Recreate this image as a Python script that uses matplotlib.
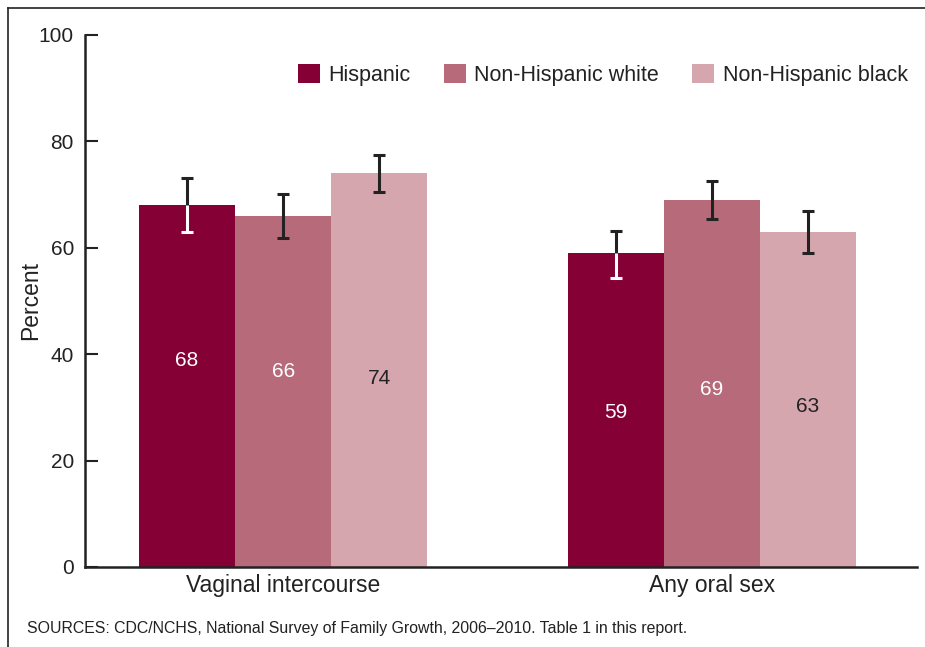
import matplotlib.pyplot as plt
import numpy as np
from matplotlib.lines import Line2D

plt.rcParams['font.family'] = ['Liberation Sans', 'DejaVu Sans']

categories = ["Vaginal intercourse", "Any oral sex"]
groups = ["Hispanic", "Non-Hispanic white", "Non-Hispanic black"]
values = {
    "Hispanic": [68, 59],
    "Non-Hispanic white": [66, 69],
    "Non-Hispanic black": [74, 63],
}
ci_low = {
    "Hispanic": [63.0, 54.3],
    "Non-Hispanic white": [61.8, 65.4],
    "Non-Hispanic black": [70.5, 59.0],
}
ci_high = {
    "Hispanic": [73.1, 63.2],
    "Non-Hispanic white": [70.1, 72.6],
    "Non-Hispanic black": [77.4, 66.9],
}
source = "SOURCES: CDC/NCHS, National Survey of Family Growth, 2006\u20132010. Table 1 in this report."

colors = ["#850034", "#b76a7a", "#d6a6ae"]
label_colors = ["white", "white", "#222222"]
# vertical spot of the number inside each bar (per group, per category)
label_y = [[38.9, 29.1], [36.8, 33.3], [35.5, 30.1]]

fig = plt.figure(figsize=(9.25, 6.47), dpi=100)
ax = fig.add_axes([85/925, 1-567/647, 832/925, 532/647])

x = np.arange(len(categories))
w = 0.224
cap = 0.0135
ink = "#222222"
for i, g in enumerate(groups):
    xs = x + (i - 1) * w
    ax.bar(xs, values[g], width=w, color=colors[i], label=g, zorder=2)
    v = np.array(values[g])
    lo = np.array(ci_low[g])
    hi = np.array(ci_high[g])
    if i == 0:
        # part of the bar that sits inside the dark bar is white
        ax.vlines(xs, v, hi, color=ink, lw=2.2, zorder=3)
        ax.hlines(hi, xs - cap, xs + cap, color=ink, lw=2.2, zorder=3)
        ax.vlines(xs, lo, v, color='white', lw=2.2, zorder=3)
        ax.hlines(lo, xs - cap, xs + cap, color='white', lw=2.2, zorder=3)
    else:
        ax.vlines(xs, lo, hi, color=ink, lw=2.2, zorder=3)
        ax.hlines(hi, xs - cap, xs + cap, color=ink, lw=2.2, zorder=3)
        ax.hlines(lo, xs - cap, xs + cap, color=ink, lw=2.2, zorder=3)
    for j in range(len(categories)):
        ax.text(xs[j], label_y[i][j], str(values[g][j]), ha='center', va='center',
                fontsize=15, color=label_colors[i], zorder=4)

ax.set_xlim(-0.462, 1.478)
ax.set_ylim(0, 100)
ax.set_yticks([0, 20, 40, 60, 80, 100])
ax.set_xticks(x)
ax.set_xticklabels(categories, fontsize=16.5, color=ink)
ax.tick_params(axis='x', length=0, pad=5)
ax.tick_params(axis='y', direction='in', length=9, width=1.5, labelsize=15,
               colors=ink, pad=8)
for s in ['top', 'right']:
    ax.spines[s].set_visible(False)
for s in ['left', 'bottom']:
    ax.spines[s].set_linewidth(1.8)
    ax.spines[s].set_color(ink)
ax.set_ylabel("Percent", fontsize=16.5, color=ink)
ax.yaxis.set_label_coords(-0.052, 0.5)

ax.legend(loc='center right', bbox_to_anchor=(1.012, 0.925), ncol=3, frameon=False,
          fontsize=15.5, handlelength=1.0, handleheight=1.0, handletextpad=0.4,
          columnspacing=1.55, labelcolor=ink)

fig.text(27/925, 1-628/647, source, fontsize=11.4, color=ink, va='center')

# frame around the figure (top and left only)
fig.add_artist(Line2D([8/925, 1], [1-8/647, 1-8/647], color=ink, lw=1.2, transform=fig.transFigure))
fig.add_artist(Line2D([8/925, 8/925], [0, 1-8/647], color=ink, lw=1.2, transform=fig.transFigure))

fig.savefig("out.png", dpi=100)
